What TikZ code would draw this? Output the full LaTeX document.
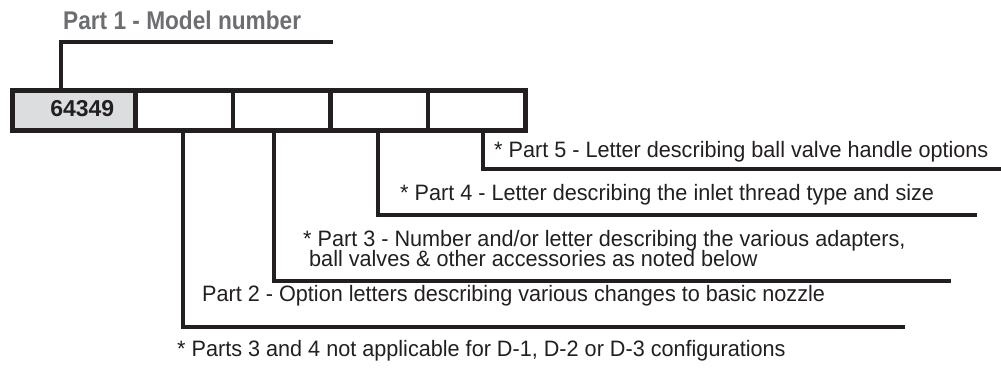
\documentclass[tikz,border=0pt]{standalone}
\usepackage{fontspec}
\setmainfont{Liberation Sans}[FakeStretch=0.97]
\newfontfamily\headfont{Liberation Sans}[FakeStretch=0.885]
\newfontfamily\numfont{Liberation Sans}
\usetikzlibrary{positioning}

\definecolor{inkgray}{RGB}{35,31,32}
\definecolor{headgray}{RGB}{109,110,113}
\definecolor{cellfill}{RGB}{220,221,222}

\tikzset{
  cell/.style={draw=inkgray, line width=4.5pt, minimum height=40pt, inner sep=0pt, outer sep=0pt},
  leader/.style={draw=inkgray, line width=4.2pt, line join=miter},
  note/.style={anchor=base west, inner sep=0pt, text=inkgray, font=\fontsize{22.3}{24}\selectfont}
}

\begin{document}
\begin{tikzpicture}[x=1pt,y=-1pt]
   \useasboundingbox (0,0) rectangle (1001,372);
   % code boxes
   \node[cell, fill=cellfill, minimum width=123pt] (box1) at (74,110.5) {};
   \node[cell, minimum width=97.5pt, right=0pt of box1] (box2) {};
   \node[cell, minimum width=97.5pt, right=0pt of box2] (box3) {};
   \node[cell, minimum width=97.5pt, right=0pt of box3] (box4) {};
   \node[cell, minimum width=97.5pt, right=0pt of box4] (box5) {};
   \node[anchor=base east, inner sep=0pt, text=inkgray, font=\numfont\bfseries\fontsize{23}{24}\selectfont] (model) at (114.5,116.7) {64349};
   % labels
   \node[note, text=headgray, font=\headfont\bfseries\fontsize{25.6}{28}\selectfont] (p1) at (63,29.3) {Part 1 - Model number};
   \node[note] (p5) at (494,157.7) {* Part 5 - Letter describing ball valve handle options};
   \node[note] (p4) at (400,200) {* Part 4 - Letter describing the inlet thread type and size};
   \node[note] (p3a) at (303,246.7) {* Part 3 - Number and/or letter describing the various adapters,};
   \node[note] (p3b) at (309,266.7) {ball valves \& other accessories as noted below};
   \node[note] (p2) at (202,301) {Part 2 - Option letters describing various changes to basic nozzle};
   \node[note] (foot) at (177,356.7) {* Parts 3 and 4 not applicable for D-1, D-2 or D-3 configurations};
   % leader ends
   \coordinate (p1end) at (333,41.7);
   \coordinate (p5end) at (1001,169);
   \coordinate (p4end) at (977,215);
   \coordinate (p3end) at (951,281);
   \coordinate (p2end) at (905,326.7);
   % leaders
   \draw[leader] ([xshift=-13pt]box1.north) |- (p1end);
   \draw[leader] ([xshift=-1pt]box2.south) |- (p2end);
   \draw[leader] ([xshift=-7.75pt]box3.south) |- (p3end);
   \draw[leader] ([xshift=-1.25pt]box4.south) |- (p4end);
   \draw[leader] ([xshift=6.25pt]box5.south) |- (p5end);
\end{tikzpicture}
\end{document}
